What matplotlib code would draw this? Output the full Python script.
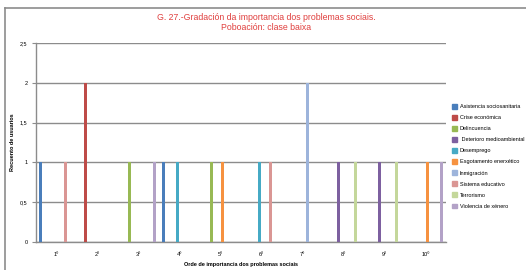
import matplotlib
matplotlib.use("Agg")
import matplotlib.pyplot as plt
import numpy as np
from matplotlib.lines import Line2D

categories = ["1º", "2º", "3º", "4º", "5º", "6º", "7º", "8º", "9º", "10º"]
series_names = ["Asistencia sociosanitaria", "Crise económica", "Delincuencia",
                " Deterioro medioambiental", "Desemprego", "Esgotamento enerxético",
                "Inmigración", "Sistema educativo", "Terrorismo", "Violencia de xénero"]
asistencia   = [1, 0, 0, 1, 0, 0, 0, 0, 0, 0]
crise        = [0, 2, 0, 0, 0, 0, 0, 0, 0, 0]
delincuencia = [0, 0, 1, 0, 1, 0, 0, 0, 0, 0]
deterioro    = [0, 0, 0, 0, 0, 0, 0, 1, 1, 0]
desemprego   = [0, 0, 0, 1, 0, 1, 0, 0, 0, 0]
esgotamento  = [0, 0, 0, 0, 1, 0, 0, 0, 0, 1]
inmigracion  = [0, 0, 0, 0, 0, 0, 2, 0, 0, 0]
sistema      = [1, 0, 0, 0, 0, 1, 0, 0, 0, 0]
terrorismo   = [0, 0, 0, 0, 0, 0, 0, 1, 1, 0]
violencia    = [0, 0, 1, 0, 0, 0, 0, 0, 0, 1]
series_values = [asistencia, crise, delincuencia, deterioro, desemprego,
                 esgotamento, inmigracion, sistema, terrorismo, violencia]
colors = ["#4A7EBB", "#BE4B48", "#98B954", "#7D60A0", "#46AAC5",
          "#F69240", "#9DB4DB", "#DA9694", "#C4D79B", "#B3A2C7"]

plt.rcParams['font.family'] = ['Liberation Sans Narrow', 'Liberation Sans', 'DejaVu Sans']

fig = plt.figure(figsize=(5.26, 2.70), dpi=100)
ax = fig.add_axes([36/526, 1-242/270, 410/526, 199/270])

n = len(series_names)
bw = 1/11.5
x = np.arange(len(categories))
for i, (name, vals, c) in enumerate(zip(series_names, series_values, colors)):
    offs = (i - (n-1)/2) * bw
    ax.bar(x + offs, vals, width=bw*0.85, color=c, label=name, zorder=3)

ax.set_xlim(-0.5, len(categories)-0.5)
ax.set_ylim(0, 2.5)
ax.set_yticks([0, 0.5, 1, 1.5, 2, 2.5])
ax.set_yticklabels(["0", "0,5", "1", "1,5", "2", "2,5"], fontsize=4)
ax.set_xticks(x)
ax.set_xticklabels(categories, fontsize=4)
ax.tick_params(axis='x', length=0, pad=7)
ax.tick_params(axis='y', length=3, width=0.8, color="#8C8C8C", pad=3)
ax.grid(axis='y', color="#8C8C8C", linewidth=1.0, zorder=0)
for s in ["top", "right"]:
    ax.spines[s].set_visible(False)
for s in ["left", "bottom"]:
    ax.spines[s].set_color("#8C8C8C")
    ax.spines[s].set_linewidth(1.0)

ax.set_ylabel("Recuento de usuarios", fontsize=4, fontweight='bold')
ax.yaxis.set_label_coords((15-36)/410, 0.5)
ax.set_xlabel("Orde de importancia dos problemas sociais", fontsize=4, fontweight='bold', labelpad=4)

fig.text(266/526, 1-17/270, "G. 27.-Gradación da importancia dos problemas sociais.",
         color="#E0403F", fontsize=6.3, ha='center', va='center')
fig.text(266/526, 1-28/270, "Poboación: clase baixa",
         color="#E0403F", fontsize=6.3, ha='center', va='center')

handles = [plt.Rectangle((0, 0), 1, 1, color=c) for c in colors]
leg = fig.legend(handles, series_names, loc='upper left',
                 bbox_to_anchor=(452/526, 1-104/270), frameon=False,
                 fontsize=4, handlelength=0.9, handleheight=0.9,
                 handletextpad=0.5, labelspacing=1.05, borderaxespad=0, borderpad=0)

# outer frame (top and left edges)
fig.add_artist(Line2D([4.5/526, 1], [1-7.5/270, 1-7.5/270], color="#8C8C8C", linewidth=1.2))
fig.add_artist(Line2D([4.5/526, 4.5/526], [0, 1-7.5/270], color="#8C8C8C", linewidth=1.2))

fig.savefig("out.png", dpi=100)
